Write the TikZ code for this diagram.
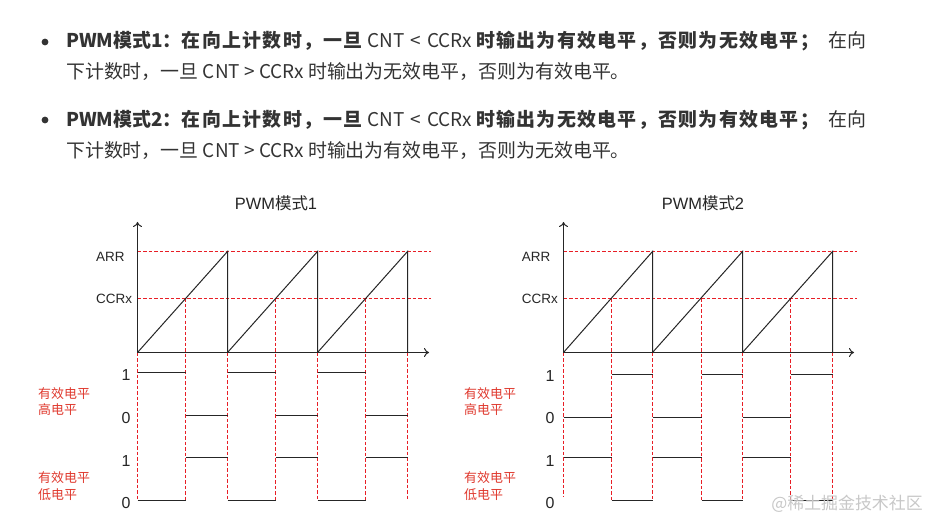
\documentclass[tikz,border=0pt]{standalone}
\usepackage{fontspec}
\setmainfont{Noto Sans CJK SC}
\newfontfamily\arialf{Liberation Sans}
\usetikzlibrary{arrows.meta}
\definecolor{txt}{HTML}{333333}
\definecolor{rd}{HTML}{E81E25}
\definecolor{lblred}{HTML}{E03A2F}
\definecolor{wm}{HTML}{C8C8C8}
\newcommand{\wideb}[1]{{\bfseries\addfontfeature{LetterSpace=7}#1}}
\tikzset{
  guide/.style={rd, dash pattern=on 3.5bp off 2bp, line width=1.35bp},
  wave/.style={black!85, line width=1bp},
  axis/.style={black!85, line width=1bp, -{To[length=5bp,width=9bp]}},
  para/.style={anchor=base west, text=txt, inner sep=0pt, font=\fontsize{19}{31}\selectfont},
  lvl/.style={anchor=center, inner sep=0pt, font=\arialf\fontsize{16}{16}\selectfont, text=black!85},
  axlbl/.style={anchor=west, inner sep=0pt, font=\arialf\fontsize{13.5}{14}\selectfont, text=black!85},
  ttl/.style={anchor=center, inner sep=0pt, font=\fontsize{16.5}{17}\selectfont, text=black!85},
  redlbl/.style={anchor=north west, inner sep=0pt, align=left, text=lblred, font=\fontsize{13}{16.5}\selectfont},
}
\begin{document}
\begin{tikzpicture}[x=1bp,y=-1bp]
\useasboundingbox (0,0) rectangle (930,521);
\fill[white] (0,0) rectangle (930,521);

% ---------- top text ----------
\fill[txt] (45,42) circle (3.4bp);
\fill[txt] (45,120) circle (3.4bp);
\node[para] (l1) at (66,48) {\textbf{PWM模式1：}\wideb{在向上计数时，一旦}\hspace{5pt}CNT\hspace{6pt}<\hspace{6pt}CCRx\hspace{4pt}\wideb{时输出为有效电平，否则为无效电平；}\hspace{9pt}在向};
\node[para] (l2) at (66,79) {下计数时，一旦 CNT > CCRx 时输出为无效电平，否则为有效电平。};
\node[para] (l3) at (66,127) {\textbf{PWM模式2：}\wideb{在向上计数时，一旦}\hspace{5pt}CNT\hspace{6pt}<\hspace{6pt}CCRx\hspace{4pt}\wideb{时输出为无效电平，否则为有效电平；}\hspace{9pt}在向};
\node[para] (l4) at (66,158) {下计数时，一旦 CNT > CCRx 时输出为有效电平，否则为无效电平。};

% ---------- left chart: PWM mode 1 ----------
\node[ttl] (t1) at (276,203) {{\arialf PWM}模式{\arialf 1}};
\coordinate (L-o) at (137.5,352.5);
\coordinate (L-top) at (137.5,222);
\coordinate (L-end) at (429,352.5);
\draw[guide] (137.5,251.5) -- (431,251.5);
\draw[guide] (137.5,298.5) -- (431,298.5);
\node[axlbl] (L-arr) at (96,256.5) {ARR};
\node[axlbl] (L-ccr) at (96,299) {CCRx};
\draw[guide] (137.5,352.5) -- (137.5,500);
\foreach \a/\b/\e in {137.5/185.5/227.5, 227.5/275.5/317.5, 317.5/365.5/407.5}{
  \draw[guide] (\b,298.5) -- (\b,500);
  \draw[guide] (\e,352.5) -- (\e,500);
  \draw[wave] (\a,352.5) -- (\e,251.5) -- (\e,352.5);
  \draw[wave] (\a,372.5) -- (\b,372.5);
  \draw[wave] (\b,415.5) -- (\e,415.5);
  \draw[wave] (\a,500.5) -- (\b,500.5);
  \draw[wave] (\b,457.5) -- (\e,457.5);
}
\draw[axis] (L-o) -- (L-top);
\draw[axis] (L-o) -- (L-end);
\node[lvl] (L-h1) at (126,375) {1};
\node[lvl] (L-h0) at (126,418) {0};
\node[lvl] (L-l1) at (126,461.5) {1};
\node[lvl] (L-l0) at (126,503) {0};
\node[redlbl] (L-hi) at (38,387) {有效电平\\高电平};
\node[redlbl] (L-lo) at (38,471.5) {有效电平\\低电平};

% ---------- right chart: PWM mode 2 ----------
\node[ttl] (t2) at (703,203) {{\arialf PWM}模式{\arialf 2}};
\coordinate (R-o) at (563.5,352.5);
\coordinate (R-top) at (563.5,222);
\coordinate (R-end) at (854,352.5);
\draw[guide] (563.5,251.5) -- (857,251.5);
\draw[guide] (563.5,298.5) -- (857,298.5);
\node[axlbl] (R-arr) at (521.7,256.5) {ARR};
\node[axlbl] (R-ccr) at (521.7,299) {CCRx};
\draw[guide] (563.5,352.5) -- (563.5,497);
\foreach \a/\b/\e in {563.5/611.5/652.5, 652.5/701.5/742.5, 742.5/790.5/832.5}{
  \draw[guide] (\b,298.5) -- (\b,500);
  \draw[guide] (\e,352.5) -- (\e,500);
  \draw[wave] (\a,352.5) -- (\e,251.5) -- (\e,352.5);
  \draw[wave] (\a,417.5) -- (\b,417.5);
  \draw[wave] (\b,374.5) -- (\e,374.5);
  \draw[wave] (\a,457.5) -- (\b,457.5);
  \draw[wave] (\b,500.5) -- (\e,500.5);
}
\draw[axis] (R-o) -- (R-top);
\draw[axis] (R-o) -- (R-end);
\node[lvl] (R-h1) at (550,376) {1};
\node[lvl] (R-h0) at (550,418) {0};
\node[lvl] (R-l1) at (550,461) {1};
\node[lvl] (R-l0) at (550,503) {0};
\node[redlbl] (R-hi) at (464,387) {有效电平\\高电平};
\node[redlbl] (R-lo) at (464,471.5) {有效电平\\低电平};

% ---------- watermark ----------
\node[anchor=east, inner sep=0pt, text=wm, font=\fontsize{17}{17}\selectfont] (wmk) at (923,504) {@稀土掘金技术社区};
\end{tikzpicture}
\end{document}
